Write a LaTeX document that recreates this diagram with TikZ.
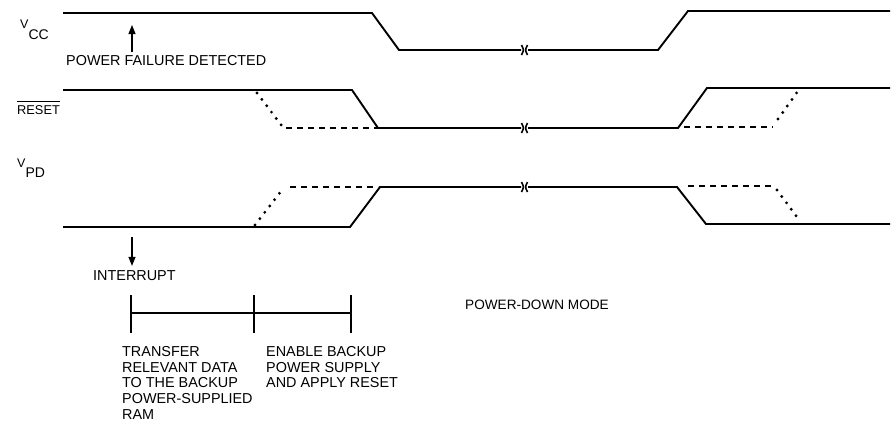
\documentclass[tikz,border=0pt]{standalone}
\usepackage{fontspec}
\setmainfont{Liberation Sans}
\usetikzlibrary{arrows.meta}
\begin{document}
\begin{tikzpicture}[x=1pt,y=-1pt,
  sig/.style={line width=1.9pt, line join=miter},
  dotsig/.style={line width=3.2pt, line cap=round, dash pattern=on 0pt off 8pt},
  dashsig/.style={line width=1.9pt, dash pattern=on 6pt off 5pt},
  thinln/.style={line width=1.2pt},
  arr/.style={line width=1.1pt, -{Triangle[length=9pt,width=7pt]}},
  txt/.style={inner sep=0pt, anchor=base west, font=\fontsize{14.4}{16}\selectfont},
  blk/.style={inner sep=0pt, anchor=north west, align=left, font=\fontsize{14.4}{15.8}\selectfont},
  brk/.pic={\draw[line width=1.6pt] (-3,-5) .. controls (-0.5,0) .. (-3,5);
            \draw[line width=1.6pt] (3,-5) .. controls (0.5,0) .. (3,5);}]
\useasboundingbox (0,0) rectangle (892,426);

% signal labels
\node[inner sep=0pt, anchor=base west] (vcc) at (20,28)
  {\fontsize{12.5}{12.5}\selectfont V\raisebox{-11pt}{\fontsize{14}{14}\selectfont CC}};
\node[inner sep=0pt, anchor=base west, font=\fontsize{12.8}{12.8}\selectfont] (rst) at (17,114) {RESET};
\draw[line width=0.9pt] ([yshift=3pt]rst.north west) -- ([yshift=3pt]rst.north east);
\node[inner sep=0pt, anchor=base west] (vpd) at (17,167)
  {\fontsize{12.5}{12.5}\selectfont V\raisebox{-10pt}{\fontsize{14}{14}\selectfont PD}};

% VCC
\draw[sig] (63,13) -- (372,13) -- (399,50) -- (521,50);
\draw[sig] (528,50) -- (658,50) -- (688,11) -- (890,11);
\pic at (524.5,50) {brk};

% RESET
\draw[sig] (63,90) -- (352,90) -- (378,128) -- (521,128);
\draw[sig] (528,128) -- (678,128) -- (707,88) -- (890,88);
\pic at (524.5,128) {brk};
\draw[dotsig] (257,93) -- (282,126);
\draw[dashsig] (286,128) -- (378,128);
\draw[dashsig] (684,127) -- (773,127);
\draw[dotsig] (778,119) -- (798,91);

% VPD
\draw[sig] (63,227) -- (350,227) -- (380,187) -- (521,187);
\draw[sig] (528,187) -- (677,187) -- (706,224) -- (890,224);
\pic at (524.5,187) {brk};
\draw[dotsig] (255,225) -- (282,190);
\draw[dashsig] (290,187) -- (378,187);
\draw[dashsig] (688,186) -- (772,186);
\draw[dotsig] (777,190) -- (797,217);

% events
\node[txt] (pfd) at (66,65) {POWER FAILURE DETECTED};
\coordinate (pftip) at (132,25);
\draw[arr] ([yshift=3pt]pfd.north -| pftip) -- (pftip);

\node[txt] (int) at (93,280) {INTERRUPT};
\coordinate (intop) at (132,237);
\draw[arr] (intop) -- ([yshift=4pt]int.north -| intop);

% time line
\coordinate (t1) at (131,313);
\coordinate (t2) at (254,313);
\coordinate (t3) at (351,313);
\draw[thinln] (t1) -- (t3);
\foreach \t in {t1,t2,t3} \draw[thinln] ([yshift=18pt]\t) -- ([yshift=-20pt]\t);

\node[blk] (trans) at (122,346) {TRANSFER\\RELEVANT DATA\\TO THE BACKUP\\POWER-SUPPLIED\\RAM};
\node[blk] (enab) at (266,346) {ENABLE BACKUP\\POWER SUPPLY\\AND APPLY RESET};
\node[txt, font=\fontsize{13.6}{15}\selectfont] (pdm) at (465,309) {POWER-DOWN MODE};
\end{tikzpicture}
\end{document}
